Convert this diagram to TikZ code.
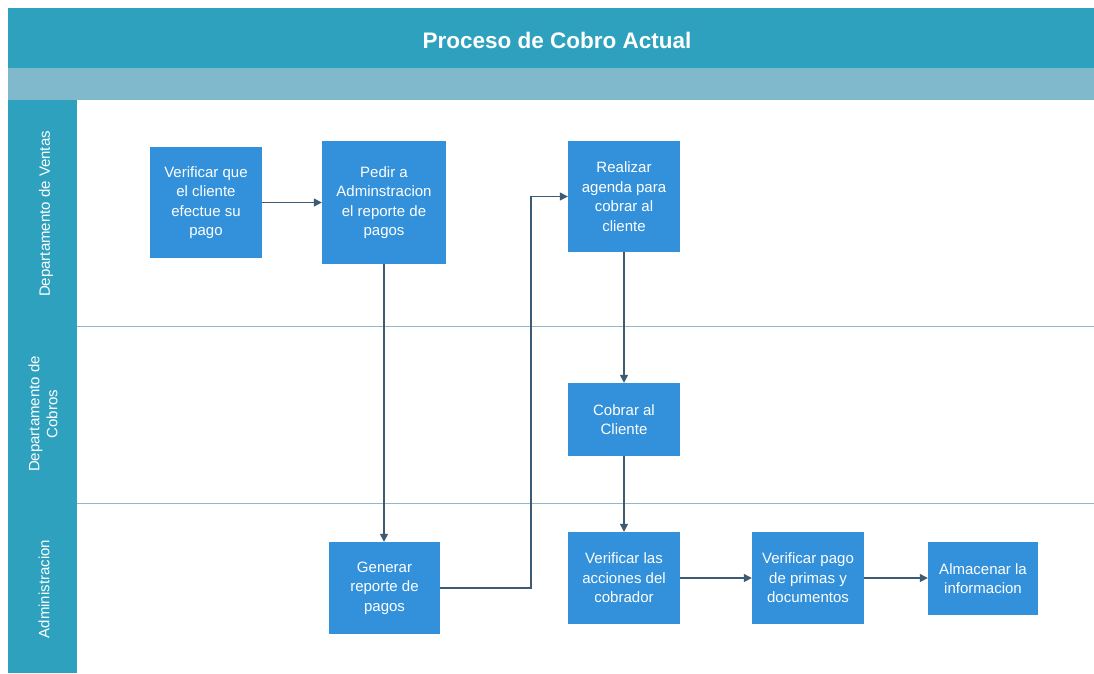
\documentclass[tikz,border=0pt]{standalone}
\usepackage{fontspec}
\setmainfont{Liberation Sans}
\usetikzlibrary{arrows.meta}
\definecolor{hdr}{HTML}{2EA1BF}
\definecolor{sub}{HTML}{80B8CC}
\definecolor{boxc}{HTML}{3291DA}
\definecolor{lanel}{HTML}{8FB9C8}
\definecolor{arr}{HTML}{3E5B74}
\tikzset{
  procbox/.style={fill=boxc, draw=none, text=white, align=center, inner sep=2pt,
    font=\fontsize{15}{19.5}\selectfont},
  flow/.style={draw=arr, line width=1.3pt, -{Triangle[length=8pt,width=8pt]}},
  lanelabel/.style={text=white, rotate=90, align=center, font=\fontsize{15}{18}\selectfont},
  laneline/.style={draw=lanel, line width=1pt}
}
\begin{document}
\begin{tikzpicture}[x=1pt,y=-1pt]
\useasboundingbox (0,0) rectangle (1094,673);
\fill[white] (0,0) rectangle (1094,673);
% header
\fill[hdr] (8,8) rectangle (1094,68);
\fill[sub] (8,68) rectangle (1094,100);
\fill[hdr] (8,100) rectangle (77,673);
\node[text=white, font=\bfseries\fontsize{22.5}{26}\selectfont] (title) at (557,40) {Proceso de Cobro Actual};
% lanes
\draw[laneline] (77,326) -- (1094,326);
\draw[laneline] (77,503) -- (1094,503);
\node[lanelabel] (l1) at (46,214) {Departamento de Ventas};
\node[lanelabel] (l2) at (43,414) {Departamento de\\Cobros};
\node[lanelabel] (l3) at (44,589) {Administracion};
% boxes
\node[procbox, minimum width=112pt, minimum height=111pt] (b1) at (206,202.5) {Verificar que\\el cliente\\efectue su\\pago};
\node[procbox, minimum width=124pt, minimum height=123pt] (b2) at (384,202.5) {Pedir a\\Adminstracion\\el reporte de\\pagos};
\node[procbox, minimum width=112pt, minimum height=111pt] (b3) at (624,196.5) {Realizar\\agenda para\\cobrar al\\cliente};
\node[procbox, minimum width=112pt, minimum height=73pt] (b4) at (624,419.5) {Cobrar al\\Cliente};
\node[procbox, minimum width=111pt, minimum height=92pt] (b5) at (384.5,588) {Generar\\reporte de\\pagos};
\node[procbox, minimum width=112pt, minimum height=92pt] (b6) at (624,578) {Verificar las\\acciones del\\cobrador};
\node[procbox, minimum width=112pt, minimum height=92pt] (b7) at (808,578) {Verificar pago\\de primas y\\documentos};
\node[procbox, minimum width=110pt, minimum height=73pt] (b8) at (983,578.5) {Almacenar la\\informacion};
% connectors
\coordinate (bend) at (531,588);
\draw[flow] (b1.east) -- (b2.west);
\draw[flow] (b2.south) -- (b5.north -| b2.south);
\draw[flow] (b5.east) -- (bend) |- (b3.west);
\draw[flow] (b3.south) -- (b4.north);
\draw[flow] (b4.south) -- (b6.north);
\draw[flow] (b6.east) -- (b7.west);
\draw[flow] (b7.east) -- (b8.west |- b7.east);
\end{tikzpicture}
\end{document}
